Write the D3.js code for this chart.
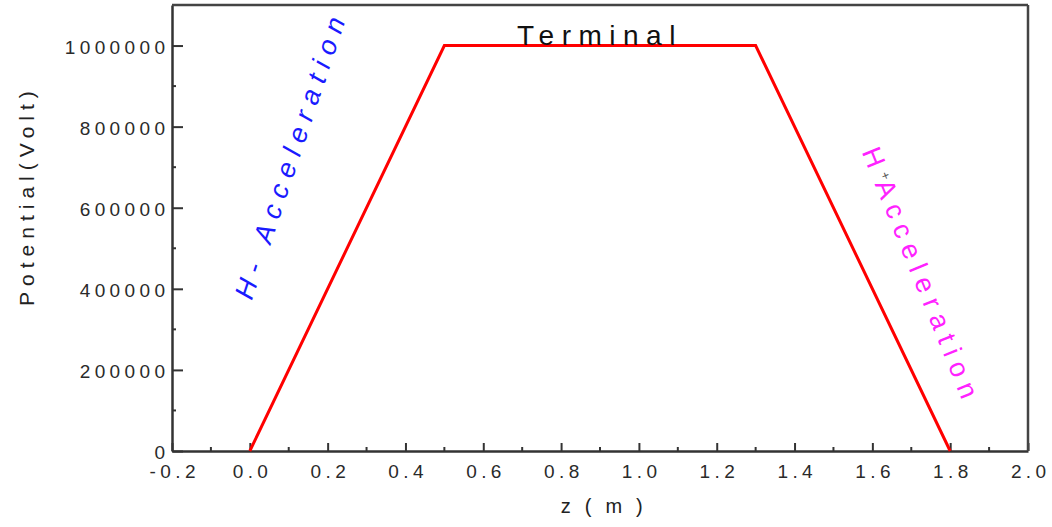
<!DOCTYPE html>
<html>
<head>
<meta charset="utf-8">
<script src="https://cdn.jsdelivr.net/npm/d3@7"></script>
<style>
body { margin: 0; background: #fff; }
text { font-family: "Liberation Sans", Arial, sans-serif; }
</style>
</head>
<body>
<div class="chart"></div>
<script>
var zValues = [0.0, 0.5, 1.3, 1.8];
var potValues = [0, 1000000, 1000000, 0];
var xTicks = [-0.2, 0.0, 0.2, 0.4, 0.6, 0.8, 1.0, 1.2, 1.4, 1.6, 1.8, 2.0];
var yTicks = [0, 200000, 400000, 600000, 800000, 1000000];

var svgWidth = 1052, svgHeight = 527;
var margin = {top: 5, right: 24, bottom: 76, left: 172};
var width = svgWidth - margin.left - margin.right;
var height = svgHeight - margin.top - margin.bottom;

var svg = d3.select(".chart").append("svg")
    .attr("width", svgWidth).attr("height", svgHeight)
    .append("g")
    .attr("transform", "translate(" + margin.left + "," + margin.top + ")");

var x = d3.scaleLinear().domain([-0.2, 2.0]).range([0, width]);
var y = d3.scaleLinear().domain([0, 1100000]).range([height, 0]);

// minor ticks
var xMinor = d3.range(-0.1, 2.0, 0.2);
var yMinor = d3.range(100000, 1100000, 200000);

svg.selectAll(".xminor").data(xMinor).enter().append("line")
    .attr("x1", d => x(d)).attr("x2", d => x(d))
    .attr("y1", height).attr("y2", height - 4)
    .attr("stroke", "#333").attr("stroke-width", 2);
svg.selectAll(".yminor").data(yMinor).enter().append("line")
    .attr("x1", 0).attr("x2", 4)
    .attr("y1", d => y(d)).attr("y2", d => y(d))
    .attr("stroke", "#333").attr("stroke-width", 2);

var fmtX = d => d3.format(".1f")(d).replace("\u2212", "-");
var bottomAxis = d3.axisBottom(x).tickValues(xTicks).tickFormat(fmtX)
    .tickSizeInner(-8).tickSizeOuter(0).tickPadding(14);
var leftAxis = d3.axisLeft(y).tickValues(yTicks).tickFormat(d3.format("d"))
    .tickSizeInner(-11).tickSizeOuter(0).tickPadding(2.5);

var gx = svg.append("g").attr("transform", "translate(0," + height + ")").call(bottomAxis);
var gy = svg.append("g").call(leftAxis);

[gx, gy].forEach(function(g) {
    g.select(".domain").attr("stroke", "#333").attr("stroke-width", 2.5);
    g.selectAll(".tick line").attr("stroke", "#333").attr("stroke-width", 2);
    g.selectAll(".tick text").attr("fill", "#2a2a2a")
        .style("font-size", "19px").style("letter-spacing", "4.4px");
});
gx.selectAll(".tick text").attr("dx", "2.2px");
gy.selectAll(".tick text").attr("dy", "0.4em");

// frame top and right
svg.append("line").attr("x1", 0).attr("x2", width).attr("y1", 0).attr("y2", 0)
    .attr("stroke", "#444").attr("stroke-width", 2.5);
svg.append("line").attr("x1", width).attr("x2", width).attr("y1", 0).attr("y2", height)
    .attr("stroke", "#444").attr("stroke-width", 2.5);

var pts = zValues.map((z, i) => [z, potValues[i]]);
svg.append("path").datum(pts)
    .attr("d", d3.line().x(d => x(d[0])).y(d => y(d[1])))
    .attr("fill", "none").attr("stroke", "#ff0000").attr("stroke-width", 3);

// axis titles
svg.append("text")
    .attr("x", x(0.91)).attr("y", height + 62)
    .attr("text-anchor", "middle").attr("fill", "#222")
    .style("font-size", "20px").style("letter-spacing", "4.2px")
    .text("z ( m )");
svg.append("text")
    .attr("transform", "translate(" + (-138) + "," + (y(630000)) + ") rotate(-90)")
    .attr("text-anchor", "middle").attr("fill", "#222")
    .style("font-size", "21px").style("letter-spacing", "6px")
    .text("Potential(Volt)");

// annotations
svg.append("text")
    .attr("x", x(0.687)).attr("y", y(1000000) - 1)
    .attr("fill", "#111")
    .style("font-size", "28px").style("letter-spacing", "7.5px")
    .text("Terminal");

svg.append("text")
    .attr("transform", "translate(" + (x(0.0) + 2) + "," + y(370000) + ") rotate(-71.5)")
    .attr("fill", "#1a1aff")
    .style("font-size", "27px").style("font-style", "italic").style("letter-spacing", "8px")
    .text("H- Acceleration");

var hp = svg.append("text")
    .attr("transform", "translate(" + x(1.572) + "," + y(738000) + ") rotate(68)")
    .attr("fill", "#ff22ff")
    .style("font-size", "27px").style("letter-spacing", "7.7px");
hp.append("tspan").text("H");
hp.append("tspan").attr("fill", "#555").attr("dy", "-9").style("font-size", "13px")
    .style("letter-spacing", "0px").text("+");
hp.append("tspan").attr("dy", "9").text("Acceleration");
</script>
</body>
</html>
